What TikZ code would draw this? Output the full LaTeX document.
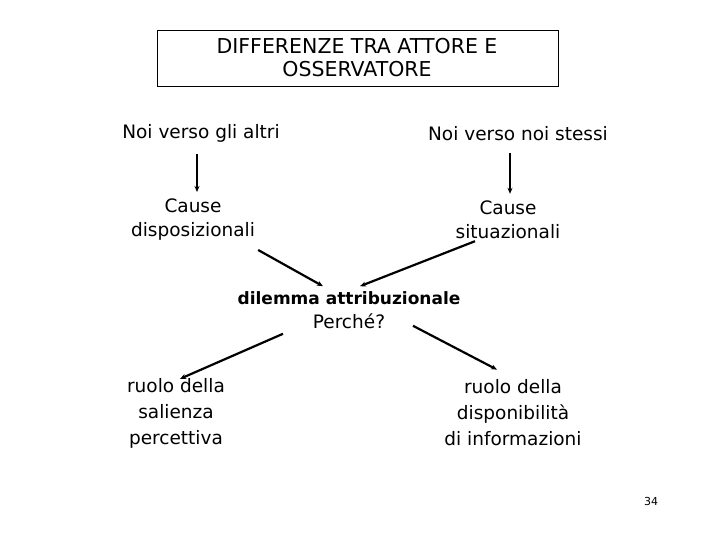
\documentclass[tikz,border=0pt]{standalone}
\usepackage{fontspec}
\setmainfont{DejaVu Sans}
\usepackage{tikz}
\usetikzlibrary{arrows.meta, calc}

\begin{document}
\begin{tikzpicture}[x=1pt, y=-1pt, >={Stealth[length=6pt,width=5pt]}]
        % cornice della pagina
        \useasboundingbox (0,0) rectangle (720,540);
        \tikzset{txt/.style={inner sep=0pt, align=center, font=\fontsize{18.5}{26}\selectfont}}

        % titolo
        \draw[thick] (157,30) rectangle (558,86);
        \node[txt, font=\fontsize{20.5}{23}\selectfont] (title) at (357,58) {DIFFERENZE TRA ATTORE E\\OSSERVATORE};

        % due punti di vista
        \node[txt] (altri) at (201,133) {Noi verso gli altri};
        \node[txt] (stessi) at (518,134) {Noi verso noi stessi};
        \node[txt, font=\fontsize{18.5}{24}\selectfont] (disp) at (193,220) {Cause\\disposizionali};
        \node[txt, font=\fontsize{18.5}{24}\selectfont] (sit) at (508,220) {Cause\\situazionali};

        % dilemma centrale
        \node[txt, font=\fontsize{18.5}{24}\selectfont] (dil) at (349,310) {\fontsize{17}{24}\selectfont\textbf{dilemma attribuzionale}\\Perché?};

        % due ruoli
        \node[txt] (sal) at (176,413) {ruolo della\\salienza\\percettiva};
        \node[txt] (info) at (513,413) {ruolo della\\disponibilità\\di informazioni};

        \node[inner sep=0pt, font=\fontsize{11}{13}\selectfont] (page) at (651,501) {34};

        % frecce
        \draw[->, line width=1.6pt, shorten <=12pt, shorten >=7pt] ([xshift=-4pt]altri.south) -- ([xshift=4pt]disp.north);
        \draw[->, line width=1.6pt, shorten <=12pt, shorten >=7pt] ([xshift=-8pt]stessi.south) -- ([xshift=2pt]sit.north);
        \draw[->, line width=2.2pt] ([shift={(3pt,-9pt)}]disp.south east) -- ([shift={(-26pt,5pt)}]dil.north);
        \draw[->, line width=2.2pt] ([shift={(-33pt,-2pt)}]sit.south) -- ([shift={(11pt,5pt)}]dil.north);
        \draw[->, line width=2.2pt] ([shift={(-66pt,-5pt)}]dil.south) -- ([shift={(4pt,-1pt)}]sal.north);
        \draw[->, line width=2.2pt] ([shift={(64pt,3pt)}]dil.south) -- ([shift={(-16pt,10pt)}]info.north);
\end{tikzpicture}
\end{document}
